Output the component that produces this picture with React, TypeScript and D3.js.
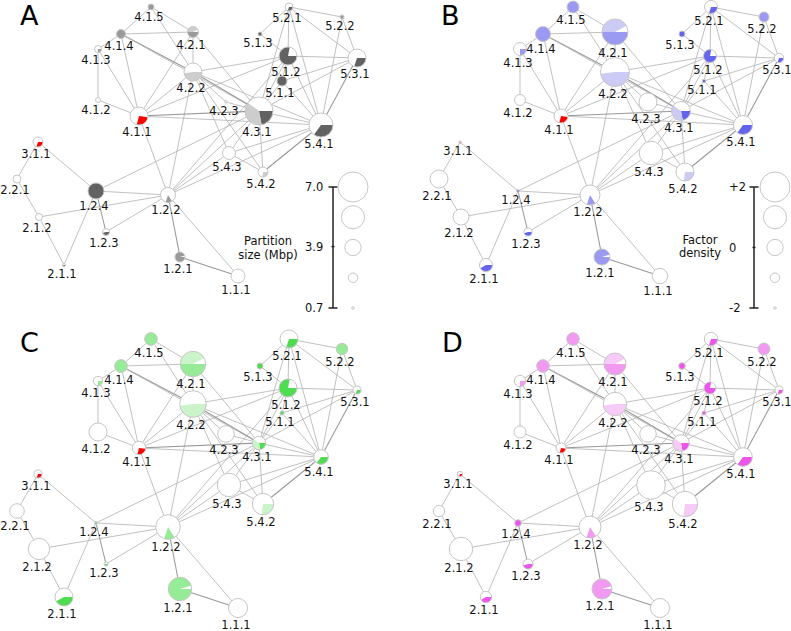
import React from "react";
import * as d3 from "d3";

// ---------- DATA ----------
const nodeIds = ["1.1.1","1.2.1","1.2.2","1.2.3","1.2.4","2.1.1","2.1.2","2.2.1","3.1.1","4.1.1","4.1.2","4.1.3","4.1.4","4.1.5","4.2.1","4.2.2","4.2.3","4.3.1","5.1.1","5.1.2","5.1.3","5.2.1","5.2.2","5.3.1","5.4.1","5.4.2","5.4.3"];
// network layout coordinates
const layoutX = [238,180,168,106,96,64,39,17,38,139,98,98,121,151,193,193,226,259,282,288,260,289,342,357,321,263,229];
const layoutY = [276,257,195,232,191,265,217,179,142,116,100,49,34,7,32,72,102,111,81,56,34,7,17,58,125,172,153];

// Panel A: partition size (Mbp)
const partitionSize = [3.32,2.40,3.55,1.71,3.78,0.79,1.71,1.94,2.40,4.24,1.25,1.71,2.17,1.48,2.63,4.24,0.70,6.54,2.40,4.24,1.02,1.94,1.02,4.24,5.62,2.40,3.09];
// Panels B, C, D: factor density
const densityB = [-0.13,-0.04,0.54,-1.21,-2.0,-0.48,-0.04,0.25,-2.0,-0.34,-0.77,-0.48,-0.19,-0.63,1.42,1.85,0.25,0.39,-1.88,-0.48,-1.50,-0.48,-0.92,-1.01,0.39,0.25,1.04];
const densityC = [0.40,1.04,1.21,-1.80,-2.0,0.25,0.74,-0.25,-1.21,-0.42,0.25,-1.01,-0.54,-0.54,1.33,1.50,0.04,-0.42,-1.80,0.25,-1.50,0.25,-0.72,-1.21,-0.25,0.74,1.04];
const densityD = [0.40,0.54,0.83,-0.92,-1.42,-0.72,1.04,-0.72,-1.59,-0.92,-0.63,-0.72,-0.54,-0.54,0.83,1.04,0.04,0.04,-1.80,-0.63,-1.42,-0.42,-0.63,-1.21,0.34,1.33,1.80];

// Pie segments (fraction, shade), clockwise from 3 o'clock
const pieSegments: [number, string][][] = [
  [],
  [[0.95,"mid"]],
  [[0.16,"none"],[0.14,"mid"]],
  [[0.45,"dark"]],
  [[1,"dark"]],
  [[0.42,"dark"]],
  [],
  [],
  [[0.3,"red"]],
  [[0.02,"none"],[0.27,"red"]],
  [],
  [[0.25,"mid"]],
  [[1,"mid"]],
  [[1,"mid"]],
  [[0.5,"mid"],[0.42,"light"]],
  [[0.48,"light"]],
  [],
  [[0.22,"dark"],[0.38,"light"]],
  [[1,"dark"]],
  [[0.78,"dark"]],
  [[1,"dark"]],
  [[0.3,"dark"]],
  [[1,"mid"]],
  [[0.3,"dark"]],
  [[0.35,"dark"]],
  [[0.27,"light"]],
  [],
];

const edgeSource = ["3.1.1","3.1.1","2.2.1","2.1.2","2.1.2","2.1.1","1.2.4","1.2.4","1.2.4","1.2.3","1.2.2","1.2.2","1.2.1","1.2.2","1.2.2","1.2.2","1.2.2","1.2.2","1.2.2",
  "4.1.5","4.1.5","4.1.5","4.1.4","4.1.4","4.1.4","4.1.4","4.1.4","4.1.3","4.1.3","4.1.2","4.1.1","4.1.1","4.1.1","4.1.1","4.1.1","4.2.1","4.2.1","4.2.2","4.2.2","4.2.2","4.2.2","4.2.2","4.2.2","4.2.3",
  "4.3.1","4.3.1","4.3.1","4.3.1","4.3.1","4.3.1","4.3.1",
  "5.1.3","5.1.3","5.2.1","5.2.1","5.2.1","5.2.1","5.2.2","5.2.2","5.1.2","5.1.2","5.1.2","5.1.1","5.1.1","5.3.1","5.4.1","5.4.1","5.4.3"];
const edgeTarget = ["2.2.1","1.2.4","2.1.2","2.1.1","1.2.2","1.2.4","1.2.3","1.2.2","4.3.1","1.2.2","1.2.1","1.1.1","1.1.1","4.1.1","4.2.2","4.3.1","5.4.1","5.4.3","5.1.2",
  "4.1.4","4.2.1","4.2.2","4.1.3","4.1.1","4.2.1","4.2.2","4.3.1","4.1.2","4.1.1","4.1.1","4.2.1","4.2.2","4.3.1","5.4.1","5.1.2","4.2.2","4.3.1","4.2.3","4.3.1","5.1.2","5.4.1","5.4.2","5.4.3","4.3.1",
  "5.1.1","5.1.2","5.2.1","5.3.1","5.4.1","5.4.2","5.4.3",
  "5.2.1","5.1.2","5.2.2","5.1.2","5.4.1","5.3.1","5.3.1","5.4.1","5.1.1","5.3.1","5.4.1","5.3.1","5.4.1","5.4.1","5.4.2","5.4.3","5.4.2"];
const edgeWeight = [1,1,1,1,1,1,2,1,1,1,2,1,2,1,1,1,1,1,1,
  1,1,1,1,1,1,2,1,1,1,1,1,1,2,1,1,1,1,1,2,1,1,1,1,1,
  1,1,1,1,1,1,1,
  1,1,1,1,1,1,1,1,1,1,1,1,1,2,2,1,1];

const legendTicksA = ["7.0","3.9","0.7"];
const legendTickValuesA = [7.0,3.9,0.7];
const legendTicksB = ["+2","0","-2"];
const legendTickValuesB = [2,0,-2];
const legendTitleA = ["Partition","size (Mbp)"];
const legendTitleB = ["Factor","density"];

// ---------- STYLE / CONFIG ----------
const palettes: Record<string, Record<string, string>> = {
  A: { dark: "#626262", mid: "#9a9a9a", light: "#cdcdcd", red: "#ff0000" },
  B: { dark: "#6464ec", mid: "#9a9af2", light: "#cbcbf6", red: "#ff0000" },
  C: { dark: "#50dc50", mid: "#96ec96", light: "#cbf4cb", red: "#ff0000" },
  D: { dark: "#ec54ec", mid: "#f29af2", light: "#f7cbf7", red: "#ff0000" },
};

type Legend = { axisX: number; top: number; bottom: number; circleX: number; labelX: number; titleX: number; titleY: number[]; ticks: string[]; tickValues: number[]; title: string[] };
type PanelCfg = { letter: string; ox: number; oy: number; lx: number; ly: number; values: number[]; domain: [number, number]; legend?: Legend };

const panels: PanelCfg[] = [
  { letter: "A", ox: 0, oy: 0, lx: 20, ly: 25, values: partitionSize, domain: [0.7, 7.0],
    legend: { axisX: 333, top: 187, bottom: 308, circleX: 353, labelX: 305, titleX: 268, titleY: [245, 258.5], ticks: legendTicksA, tickValues: legendTickValuesA, title: legendTitleA } },
  { letter: "B", ox: 422, oy: 0, lx: 441, ly: 25, values: densityB, domain: [-2, 2],
    legend: { axisX: 754, top: 187, bottom: 308, circleX: 775, labelX: 729, titleX: 700, titleY: [244, 256.5], ticks: legendTicksB, tickValues: legendTickValuesB, title: legendTitleB } },
  { letter: "C", ox: 0, oy: 332, lx: 20, ly: 352, values: densityC, domain: [-2, 2] },
  { letter: "D", ox: 422, oy: 332, lx: 442, ly: 352, values: densityD, domain: [-2, 2] },
];

const idx = new Map(nodeIds.map((d, i) => [d, i]));

function Panel({ p }: { p: PanelCfg }) {
  const x = d3.scaleLinear().domain([0, 400]).range([p.ox, p.ox + 400]);
  const y = d3.scaleLinear().domain([0, 300]).range([p.oy, p.oy + 300]);
  const rs = d3.scaleLinear().domain(p.domain).range([1.3, 15]).clamp(true);
  const arc = d3.arc<any>();
  const pal = palettes[p.letter];
  const lg = p.legend;
  return (
    <g>
      <text x={p.lx} y={p.ly} fontSize={27} fill="#000">{p.letter}</text>
      <g>
        {edgeSource.map((s, i) => {
          const a = idx.get(s)!, b = idx.get(edgeTarget[i])!;
          const heavy = edgeWeight[i] > 1;
          return (
            <line key={i} x1={x(layoutX[a])} y1={y(layoutY[a])} x2={x(layoutX[b])} y2={y(layoutY[b])}
              stroke={heavy ? "#989898" : "#b6b6b6"} strokeWidth={heavy ? 1.05 : 0.85} />
          );
        })}
      </g>
      <g>
        {nodeIds.map((id, i) => {
          const cx = x(layoutX[i]), cy = y(layoutY[i]), rad = rs(p.values[i]);
          let cum = 0;
          const segs = pieSegments[i].map(([f, shade], j) => {
            const s = Math.PI / 2 + cum * 2 * Math.PI;
            cum += f;
            const e = Math.PI / 2 + cum * 2 * Math.PI;
            if (shade === "none") return null;
            return (
              <path key={j} transform={`translate(${cx},${cy})`}
                d={arc({ innerRadius: 0, outerRadius: rad, startAngle: s, endAngle: e }) || ""}
                fill={pal[shade]} />
            );
          });
          return (
            <g key={id}>
              <circle cx={cx} cy={cy} r={rad} fill="#fff" />
              {segs}
              <circle cx={cx} cy={cy} r={rad} fill="none" stroke="#c6c6c6" strokeWidth={1} />
            </g>
          );
        })}
      </g>
      <g fontSize={11.5} fill="#111" textAnchor="middle">
        {nodeIds.map((id, i) => (
          <text key={id} x={x(layoutX[i]) - 2} y={y(layoutY[i]) + rs(p.values[i]) + 11.5}>{id}</text>
        ))}
      </g>
      {lg && (() => {
        const ly = d3.scaleLinear().domain(p.domain).range([lg.bottom, lg.top]);
        const circleVals = d3.range(5).map(k => p.domain[1] - k * (p.domain[1] - p.domain[0]) / 4);
        return (
          <g>
            <line x1={lg.axisX} x2={lg.axisX} y1={lg.top} y2={lg.bottom} stroke="#222" strokeWidth={1.5} />
            {lg.tickValues.map((v, k) => {
              const end = k === 0 || k === lg.tickValues.length - 1;
              return <line key={k} x1={lg.axisX - (end ? 4.5 : 1.5)} x2={lg.axisX + (end ? 4.5 : 1.5)} y1={ly(v)} y2={ly(v)} stroke="#222" strokeWidth={1.5} />;
            })}
            {lg.ticks.map((t, k) => (
              <text key={t} x={lg.labelX} y={ly(lg.tickValues[k])} dy="0.35em" fontSize={11.5} fill="#111">{t}</text>
            ))}
            {lg.title.map((t, k) => (
              <text key={t} x={lg.titleX} y={lg.titleY[k]} fontSize={11.5} fill="#111" textAnchor="middle">{t}</text>
            ))}
            {circleVals.map((v, k) => (
              <circle key={k} cx={lg.circleX} cy={ly(v)} r={rs(v)} fill="#fff" stroke="#c6c6c6" strokeWidth={1} />
            ))}
          </g>
        );
      })()}
    </g>
  );
}

export default function App() {
  return (
    <svg width={791} height={631} style={{ position: "absolute", left: 0, top: 0, background: "#fff" }}
      fontFamily="DejaVu Sans, Verdana, sans-serif">
      <rect width={791} height={631} fill="#fff" />
      {panels.map(p => <Panel key={p.letter} p={p} />)}
    </svg>
  );
}
